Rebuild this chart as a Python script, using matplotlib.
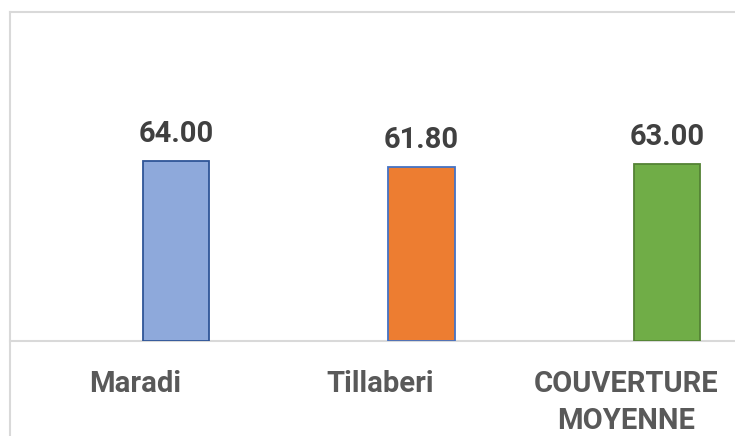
import numpy as np
import matplotlib
matplotlib.use("Agg")
import matplotlib.pyplot as plt
from matplotlib.lines import Line2D

# data
categories = ["Maradi", "Tillaberi", "COUVERTURE\nMOYENNE"]
values = [64.00, 61.80, 63.00]
bar_colors = ["#8EA9DB", "#ED7D31", "#70AD47"]
edge_colors = ["#2F5597", "#4472C4", "#548235"]

plt.rcParams['font.family'] = ['Roboto', 'DejaVu Sans']

fig = plt.figure(figsize=(7.35, 4.36), dpi=100)
W, H = 735, 436

# axes placed in pixel terms (baseline at y=341, frame top at y=13)
ax = fig.add_axes([10 / W, (H - 341) / H, 725 / W, 328 / H])

x = np.arange(len(categories))
ax.bar(x, values, width=0.269, color=bar_colors, edgecolor=edge_colors, linewidth=1.3, zorder=3)

for xi, v in zip(x, values):
    ax.annotate(f"{v:.2f}", (xi, v), xytext=(0, 13.5), textcoords="offset points",
                ha="center", va="baseline", fontsize=21, fontweight="bold", color="#404040")

ax.set_xlim(-0.676, 2.277)
ax.set_ylim(0, 116.6)

# labels sit a bit left of the bars
ax.set_xticks(x - 0.167)
ax.set_xticklabels(categories, fontsize=21, fontweight="bold", color="#595959", linespacing=1.4)
ax.tick_params(axis="x", length=0, pad=21)
ax.set_yticks([])

for s in ["left", "right", "top"]:
    ax.spines[s].set_visible(False)
ax.spines["bottom"].set_color("#d9d9d9")
ax.spines["bottom"].set_linewidth(1.5)

# chart frame (left and top edges)
frame_x = 9.5 / W
frame_y = (H - 12.5) / H
fig.add_artist(Line2D([frame_x, frame_x], [0, frame_y], transform=fig.transFigure, color="#d9d9d9", lw=1.5))
fig.add_artist(Line2D([frame_x, 1], [frame_y, frame_y], transform=fig.transFigure, color="#d9d9d9", lw=1.5))

fig.savefig("out.png", dpi=100)
